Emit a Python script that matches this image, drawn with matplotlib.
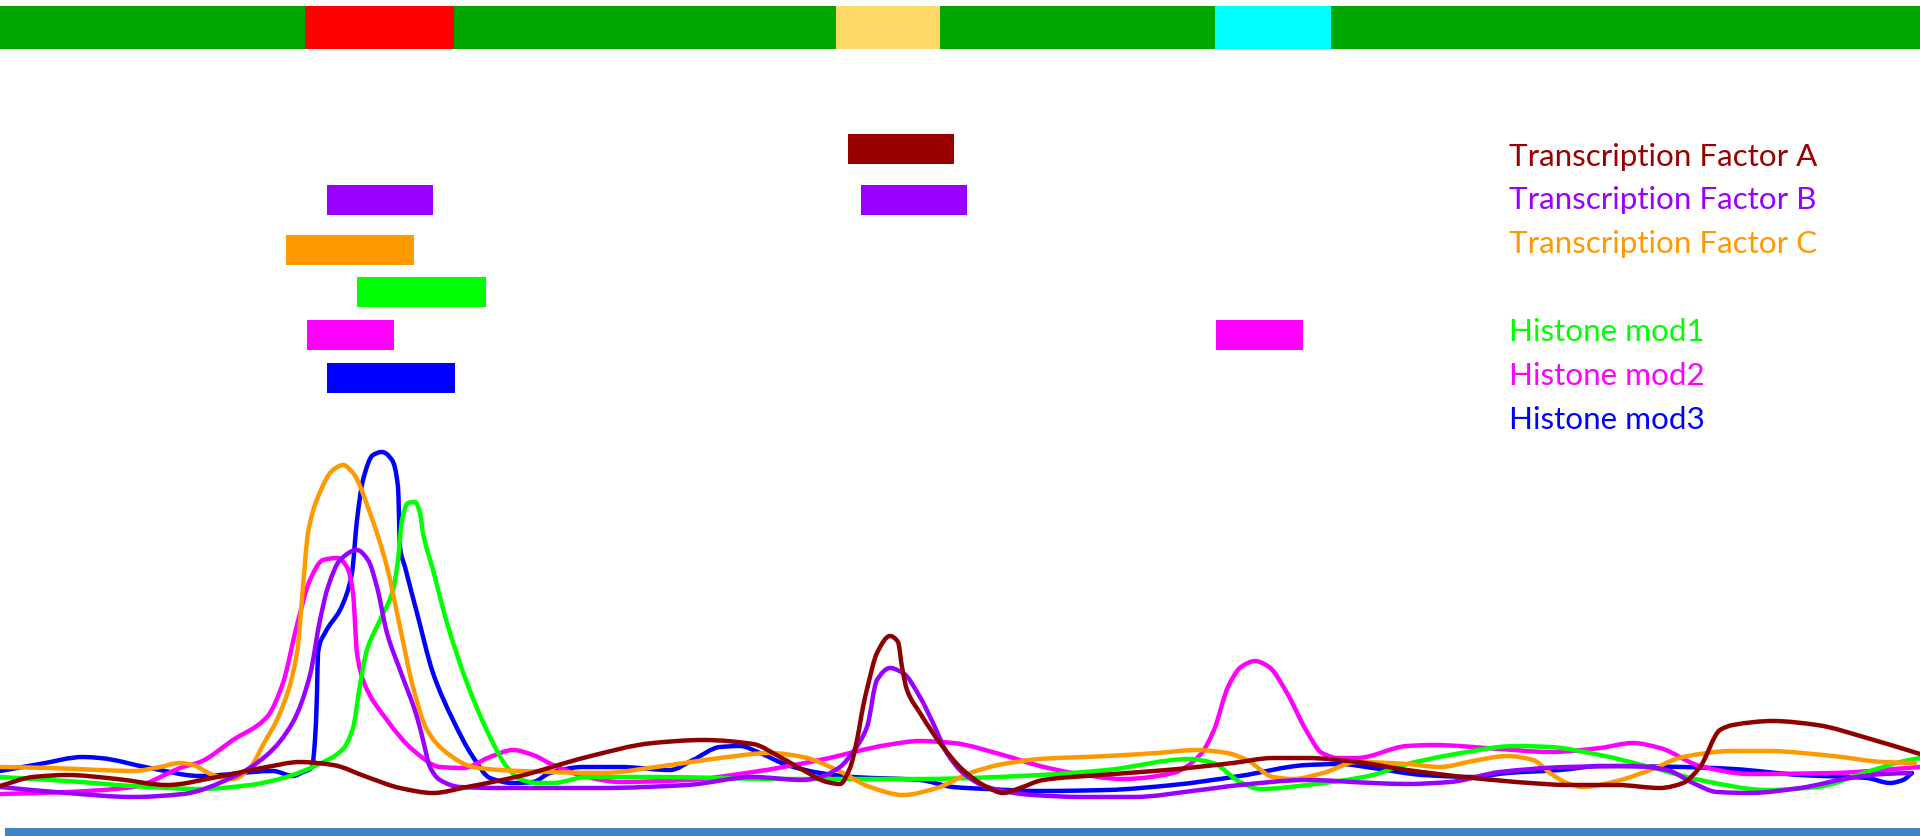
import numpy as np
import matplotlib
matplotlib.use("Agg")
import matplotlib.pyplot as plt
from matplotlib.path import Path
from matplotlib.patches import PathPatch

# ---------------- data (track coordinates: x = genome position, y = track row, downwards) -------------
# top annotation bar
region_starts = [0, 305, 836, 1215]
region_ends = [1920, 454, 940, 1331]
region_colors = ["#00a600", "#ff0000", "#ffd966", "#00ffff"]

# binding / mark intervals
track_names = ["Transcription Factor A", "Transcription Factor B", "Transcription Factor C",
               "Histone mod1", "Histone mod2", "Histone mod3"]
track_colors = ["#990000", "#9900ff", "#ff9900", "#00ff00", "#ff00ff", "#0000ff"]
line_colors = ["#8e0000", "#9900ff", "#ff9900", "#00ff00", "#ff00ff", "#0000ff"]
track_rows = [148.5, 199.5, 250, 292, 335, 378]
tfa_intervals = [(848, 954)]
tfb_intervals = [(327, 433), (861, 967)]
tfc_intervals = [(286, 414)]
h1_intervals = [(357, 486)]
h2_intervals = [(307, 394), (1216, 1303)]
h3_intervals = [(327, 455)]
legend_rows = [166, 209, 253, 341, 385, 429]

# signal curves (x, y)
tfa_x = [0, 33, 67, 117, 167, 217, 267, 300, 333, 367, 400, 433, 467, 520, 587, 653, 703, 753, 780, 803,
         827, 840, 850, 857, 863, 868, 877, 890, 898, 902, 907, 920, 940, 963, 987, 1003, 1020, 1043, 1100,
         1167, 1233, 1273, 1307, 1357, 1407, 1473, 1530, 1567, 1617, 1660, 1683, 1700, 1720, 1733, 1773,
         1817, 1867, 1920]
tfa_y = [786, 777, 775, 779, 785, 777, 767, 762, 765, 777, 788, 793, 787, 776, 757, 743, 740, 744, 757, 770,
         782, 784, 768, 740, 707, 685, 653, 636, 642, 667, 690, 713, 743, 770, 787, 793, 788, 780, 775,
         770, 763, 758, 758, 762, 770, 778, 783, 785, 785, 788, 783, 767, 730, 725, 721,
         725, 738, 754]

tfb_x = [0, 67, 133, 183, 233, 267, 293, 310, 320, 328, 340, 357, 368, 377, 387, 400, 417, 423, 430, 440,
         460, 500, 600, 687, 753, 803, 820, 840, 853, 867, 877, 890, 903, 920, 933, 947, 963, 987, 1033,
         1083, 1133, 1200, 1240, 1307, 1373, 1407, 1450, 1500, 1567, 1633, 1667, 1693, 1717, 1750, 1800,
         1850, 1883, 1910]
tfb_y = [787, 793, 797, 794, 777, 755, 722, 675, 620, 587, 560, 550, 560, 587, 633, 670, 717, 740, 767, 780,
         787, 788, 788, 785, 777, 780, 777, 767, 752, 727, 680, 668, 673, 697, 723, 753, 773, 787, 795,
         797, 797, 790, 785, 780, 783, 784, 782, 772, 767, 766, 770, 783, 792, 793, 788,
         778, 774, 773]

tfc_x = [0, 50, 100, 133, 160, 180, 193, 213, 233, 250, 263, 280, 297, 303, 308, 318, 333, 343, 353, 370,
         387, 400, 413, 427, 447, 473, 500, 550, 600, 670, 720, 770, 803, 837, 870, 903, 937, 970, 1003,
         1040, 1107, 1157, 1197, 1227, 1247, 1273, 1293, 1323, 1357, 1407, 1440, 1473, 1507, 1533, 1550,
         1567, 1583, 1617, 1650, 1683, 1733, 1767, 1833, 1883, 1915]
tfc_y = [767, 768, 770, 771, 767, 763, 765, 775, 779, 768, 745, 713, 653, 587, 533, 497, 470, 465, 473, 513,
         567, 627, 687, 730, 753, 767, 770, 772, 773, 765, 758, 753, 757, 770, 787, 795, 788, 773, 764,
         759, 756, 753, 750, 753, 760, 777, 779, 773, 762, 764, 767, 761, 756, 760, 773,
         783, 787, 781, 770, 757, 751, 751, 756, 762, 763]

h1_x = [0, 67, 133, 200, 250, 283, 317, 343, 353, 360, 367, 380, 393, 398, 402, 408, 415, 420, 423, 433,
        447, 467, 490, 507, 520, 537, 553, 587, 653, 787, 920, 1040, 1107, 1190, 1213, 1240, 1260, 1307,
        1373, 1400, 1450, 1517, 1550, 1600, 1650, 1700, 1767, 1817, 1867, 1900, 1920]
h1_y = [777, 781, 786, 789, 785, 778, 765, 749, 728, 685, 650, 620, 590, 560, 520, 503, 502, 513, 533, 570,
        623, 683, 737, 767, 779, 783, 783, 777, 777, 779, 779, 775, 770, 759, 763, 782, 789, 785,
        775, 766, 755, 746, 747, 755, 767, 780, 790, 787, 772, 762, 758]

h2_x = [0, 67, 133, 183, 200, 233, 267, 283, 297, 310, 323, 337, 347, 353, 357, 363, 387, 413, 440, 463,
        490, 513, 533, 553, 587, 620, 687, 753, 820, 887, 920, 953, 1003, 1040, 1073, 1123, 1173, 1200,
        1214, 1228, 1241, 1255, 1269, 1287, 1306, 1322, 1338, 1357, 1407, 1433, 1500, 1550, 1600, 1633,
        1660, 1700, 1750, 1833, 1920]
h2_y = [794, 792, 787, 767, 762, 740, 717, 683, 625, 580, 560, 558, 567, 593, 653, 680, 720, 750, 767, 768,
        757, 750, 755, 765, 777, 782, 780, 772, 760, 745, 741, 743, 755, 766, 773, 779, 773, 755,
        730, 687, 667, 661, 667, 693, 730, 753, 758, 758, 746, 745, 749, 752, 748, 743,
        748, 766, 774, 773, 767]

h3_x = [0, 40, 83, 100, 150, 200, 273, 293, 303, 312, 315, 317, 318, 325, 340, 347, 352, 357, 363, 373,
        382, 392, 398, 400, 405, 417, 433, 453, 473, 490, 513, 533, 550, 583, 620, 670, 693, 720, 740, 760,
        787, 820, 853, 920, 953, 987, 1040, 1107, 1173, 1240, 1307, 1340, 1373, 1423, 1473, 1507, 1560,
        1600, 1683, 1733, 1800, 1867, 1890, 1903, 1912]
h3_y = [771, 764, 757, 758, 768, 776, 771, 776, 772, 767, 740, 693, 653, 633, 610, 593, 573, 520, 480, 455,
        452, 460, 487, 547, 567, 613, 673, 720, 757, 778, 783, 782, 773, 767, 767, 770, 760, 747, 746, 753,
        765, 773, 777, 780, 787, 789, 791, 790, 785, 776, 765, 764, 768, 775, 777, 773, 770,
        766, 767, 769, 775, 778, 783, 780, 773]

# bottom axis bar
axis_bar = (5, 1920, 828, 836)


# ---------------- drawing ----------------
def smooth_path(xs, ys):
    """Smooth Bezier path through the points (monotone cubic tangents)."""
    x = np.asarray(xs, float)
    y = np.asarray(ys, float)
    h = np.diff(x)
    d = np.diff(y) / h
    m = np.zeros_like(y)
    m[0], m[-1] = d[0], d[-1]
    for i in range(1, len(x) - 1):
        if d[i - 1] * d[i] <= 0:
            m[i] = 0.0
        else:
            w1 = 2 * h[i] + h[i - 1]
            w2 = h[i] + 2 * h[i - 1]
            m[i] = (w1 + w2) / (w1 / d[i - 1] + w2 / d[i])
    verts = [(x[0], y[0])]
    codes = [Path.MOVETO]
    for i in range(len(x) - 1):
        verts.append((x[i] + h[i] / 3, y[i] + m[i] * h[i] / 3))
        verts.append((x[i + 1] - h[i] / 3, y[i + 1] - m[i + 1] * h[i] / 3))
        verts.append((x[i + 1], y[i + 1]))
        codes += [Path.CURVE4] * 3
    return Path(verts, codes)


W, H = 1920, 836
fig = plt.figure(figsize=(19.2, 8.36), dpi=100)
ax = fig.add_axes([0, 0, 1, 1])
ax.set_xlim(0, W)
ax.set_ylim(H, 0)
ax.axis("off")

# top annotation bar
ax.barh([27.5] * len(region_starts), np.array(region_ends) - np.array(region_starts),
        left=region_starts, height=43, color=region_colors, linewidth=0)

# interval bars
all_intervals = [tfa_intervals, tfb_intervals, tfc_intervals, h1_intervals, h2_intervals, h3_intervals]
for ivs, row, col in zip(all_intervals, track_rows, track_colors):
    starts = [a for a, b in ivs]
    widths = [b - a for a, b in ivs]
    ax.barh([row] * len(ivs), widths, left=starts, height=30, color=col, linewidth=0)

# legend text
for name, row, col in zip(track_names, legend_rows, track_colors):
    ax.text(1509, row, name, color=col, fontsize=22.6, family=["Lato", "DejaVu Sans"],
            va="baseline", ha="left")

# signal curves
curves = [(h3_x, h3_y, line_colors[5]), (h2_x, h2_y, line_colors[4]), (h1_x, h1_y, line_colors[3]),
          (tfc_x, tfc_y, line_colors[2]), (tfb_x, tfb_y, line_colors[1]), (tfa_x, tfa_y, line_colors[0])]
for i, (xs, ys, col) in enumerate(curves):
    patch = PathPatch(smooth_path(xs, ys), facecolor="none", edgecolor=col, lw=3.2,
                      capstyle="round", joinstyle="round", zorder=3 + i)
    ax.add_patch(patch)

# bottom axis bar
ax.barh([(axis_bar[2] + axis_bar[3]) / 2], [axis_bar[1] - axis_bar[0]], left=[axis_bar[0]],
        height=axis_bar[3] - axis_bar[2], color="#3d85c6", linewidth=0)

fig.savefig("out.png", dpi=100)
